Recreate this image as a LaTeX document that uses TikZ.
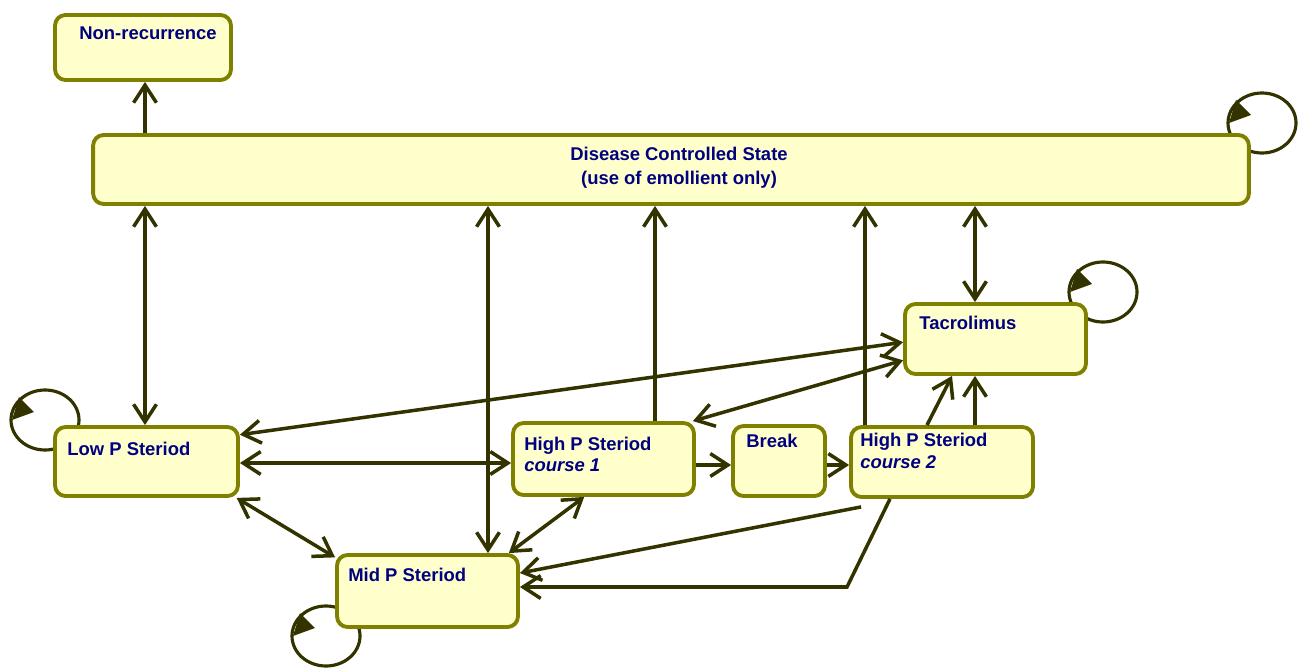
\documentclass[tikz,border=0pt]{standalone}
\usepackage{fontspec}
\setmainfont{Liberation Sans}
\usetikzlibrary{arrows.meta,calc}
\definecolor{boxfill}{HTML}{FFFFCC}
\definecolor{boxline}{HTML}{808000}
\definecolor{linkcol}{HTML}{333300}
\definecolor{labelcol}{HTML}{000080}
\tikzset{
  statebox/.style={draw=boxline, fill=boxfill, line width=2.2pt, rounded corners=6pt, inner sep=0pt},
  statetext/.style={text=labelcol, font=\fontsize{10.5}{12.5}\selectfont\bfseries, inner sep=0pt, anchor=base west, align=left},
  link/.style={draw=linkcol, line width=2pt},
  loopline/.style={draw=linkcol, line width=1.8pt},
  >={Straight Barb[length=10pt,width=13pt]}
}
% self loop: ellipse with a filled tip on its left side
\newcommand{\selfloop}[2]{%
  \draw[loopline] (#1,#2) ellipse [x radius=34, y radius=30];
  \fill[linkcol] (#1,#2) ++(-33,0) -- ++(22,-8) -- ++(-15,-15) -- cycle;
}
\begin{document}
\begin{tikzpicture}[x=0.02cm,y=-0.02cm]
		\useasboundingbox (0,0) rectangle (1305,669);
		
		% Self loops (drawn under the boxes)
		\selfloop{1262}{123}
		\selfloop{1103}{292}
		\selfloop{45}{420}
		\selfloop{326}{636}
		
		% States
		\node[statebox, minimum width=3.52cm, minimum height=1.30cm] (NonRec) at (143,47.5) {};
		\node[statebox, minimum width=23.12cm, minimum height=1.38cm] (Disease) at (671,169.5) {};
		\node[statebox, minimum width=3.62cm, minimum height=1.40cm] (Tacro) at (995.5,339) {};
		\node[statebox, minimum width=3.66cm, minimum height=1.38cm] (LowP) at (146.5,461.5) {};
		\node[statebox, minimum width=3.62cm, minimum height=1.44cm] (HP1) at (603.5,459) {};
		\node[statebox, minimum width=1.84cm, minimum height=1.40cm] (Break) at (779,461) {};
		\node[statebox, minimum width=3.64cm, minimum height=1.40cm] (HP2) at (942,462) {};
		\node[statebox, minimum width=3.62cm, minimum height=1.44cm] (MidP) at (427.5,591) {};
		
		% State names (base = last line)
		\node[statetext] (NonRecText) at (79,39.5) {Non-recurrence};
		\node[statetext, anchor=base, align=center] (DiseaseText) at (679,184.5) {Disease Controlled State\\[1.2pt](use of emollient only)};
		\node[statetext] (TacroText) at (919,329.5) {Tacrolimus};
		\node[statetext] (LowPText) at (67,455.5) {Low P Steriod};
		\node[statetext, font=\fontsize{10.5}{12}\selectfont\bfseries] (HPOneText) at (524,471.5) {High P Steriod\\\textit{course 1}};
		\node[statetext] (BreakText) at (746,447.5) {Break};
		\node[statetext] (HPTwoText) at (860,468.5) {High P Steriod\\\textit{course 2}};
		\node[statetext] (MidPText) at (348,581.5) {Mid P Steriod};
		
		% Links with the controlled state
		\draw[link,->] (Disease.north -| 145,0) -- (NonRec.south -| 145,0);
		\draw[link,<->] (Disease.south -| 145,0) -- (LowP.north -| 145,0);
		\draw[link,<->] (Disease.south -| 488,0) -- (MidP.north -| 488,0);
		\draw[link,->] (HP1.north -| 655,0) -- (Disease.south -| 655,0);
		\draw[link,->] (HP2.north -| 865,0) -- (Disease.south -| 865,0);
		\draw[link,<->] (Disease.south -| 975,0) -- (Tacro.north -| 975,0);
		
		% Links with tacrolimus
		\draw[link,<->] (LowP.16) -- (Tacro.182);
		\draw[link,<->] (HP1.23) -- (Tacro.193);
		\draw[link,->] (HP2.north -| 927,0) -- (Tacro.south -| 952,0);
		\draw[link,->] (HP2.north -| 975,0) -- (Tacro.south -| 975,0);
		
		% Steroid courses
		\draw[link,<->] (LowP.east |- 0,463) -- (HP1.west |- 0,463);
		\draw[link,->] (HP1.east |- 0,465) -- (Break.west |- 0,465);
		\draw[link,->] (Break.east |- 0,465) -- (HP2.west |- 0,465);
		
		% Links with mid P steroid
		\draw[link,<->] (LowP.-22) -- (MidP.160);
		\draw[link,<->] (MidP.25) -- (HP1.243);
		\draw[link,->] ($(HP2.south west)+(12,8)$) -- (MidP.11);
		\draw[link,->] (HP2.south -| 890,0) -- (847,587) -- (MidP.east |- 0,587);
	\end{tikzpicture}
\end{document}
